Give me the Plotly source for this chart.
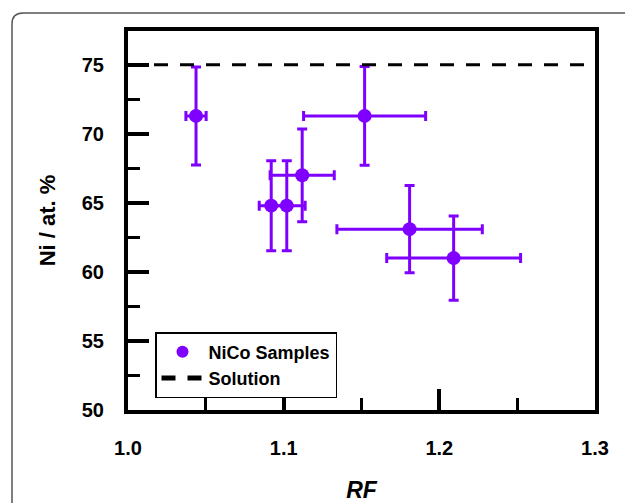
import plotly.graph_objects as go

# Data
rf = [1.0437, 1.0920, 1.1020, 1.1119, 1.1520, 1.1809, 1.2092]
ni = [71.3, 64.8, 64.8, 67.0, 71.3, 63.1, 61.0]
rf_err = [0.0065, 0.0077, 0.0118, 0.0206, 0.0392, 0.0467, 0.0430]
ni_err = [3.55, 3.26, 3.26, 3.36, 3.58, 3.16, 3.05]
solution_x = [1.0, 1.3]
solution_y = [75, 75]
x_ticks = [1.0, 1.1, 1.2, 1.3]
x_minor = [1.05, 1.15, 1.25]
y_ticks = [50, 55, 60, 65, 70, 75]
y_minor = [52.5, 57.5, 62.5, 67.5, 72.5]

purple = "#7F00FF"
font_family = "Liberation Sans, Arial, sans-serif"

fig = go.Figure()
fig.add_trace(go.Scatter(
    x=rf, y=ni, mode="markers", name="<b>NiCo Samples</b>",
    marker=dict(color=purple, size=14, symbol="circle"),
    error_x=dict(type="data", array=rf_err, color=purple, thickness=3, width=5),
    error_y=dict(type="data", array=ni_err, color=purple, thickness=3, width=5),
))
fig.add_trace(go.Scatter(
    x=solution_x, y=solution_y, mode="lines", name="<b>Solution</b>",
    line=dict(color="black", width=3, dash="14px,12px"),
))

L, R, T, B = 128, 30, 31, 93
pw = 625 - L - R
ph = 503 - T - B

fig.update_layout(
    width=625, height=503,
    margin=dict(l=L, r=R, t=T, b=B, autoexpand=False),
    paper_bgcolor="white", plot_bgcolor="white",
    font=dict(family=font_family, size=20, color="black"),
    showlegend=True,
    legend=dict(
        x=(155 - L) / pw, y=(503 - B - 332) / ph, xanchor="left", yanchor="top",
        bgcolor="white", bordercolor="black", borderwidth=1.5,
        font=dict(size=18, color="black"),
        tracegroupgap=0, itemsizing="constant", itemwidth=42,
    ),
    xaxis=dict(
        range=[1.0, 1.3], tickvals=x_ticks,
        ticktext=[f"<b>{v:.1f}</b>" for v in x_ticks],
        ticks="inside", ticklen=21, tickwidth=4, tickcolor="black",
        minor=dict(tickvals=x_minor, ticks="inside", ticklen=12,
                   tickwidth=3, tickcolor="black"),
        showline=True, linewidth=4, linecolor="black", mirror=True,
        showgrid=False, zeroline=False,
        ticklabelstandoff=17,
        title=dict(text="<b><i>RF</i></b>", font=dict(size=23), standoff=36),
    ),
    yaxis=dict(
        range=[50, 77.45], tickvals=y_ticks,
        ticktext=[f"<b>{v}</b>" for v in y_ticks],
        ticks="inside", ticklen=21, tickwidth=4, tickcolor="black",
        minor=dict(tickvals=y_minor, ticks="inside",
                   ticklen=12, tickwidth=3, tickcolor="black"),
        showline=True, linewidth=4, linecolor="black", mirror=True,
        showgrid=False, zeroline=False,
        ticklabelstandoff=16,
        title=dict(text="<b>Ni / at. %</b>", font=dict(size=22), standoff=21),
    ),
)

# Outer rounded frame (decoration)
x0 = (12 - L) / pw
y0 = (503 - B - 13) / ph
r_x = 11 / pw
r_y = 11 / ph
fig.add_shape(
    type="path", xref="paper", yref="paper",
    path=(f"M {x0} {(503 - B - 520) / ph} L {x0} {y0 - r_y} "
          f"Q {x0} {y0} {x0 + r_x} {y0} L {(640 - L) / pw} {y0}"),
    line=dict(color="#555555", width=1.5), layer="below",
)

fig.write_html("out.html", config={"displayModeBar": False},
               post_script="document.body.style.margin='0px';")
